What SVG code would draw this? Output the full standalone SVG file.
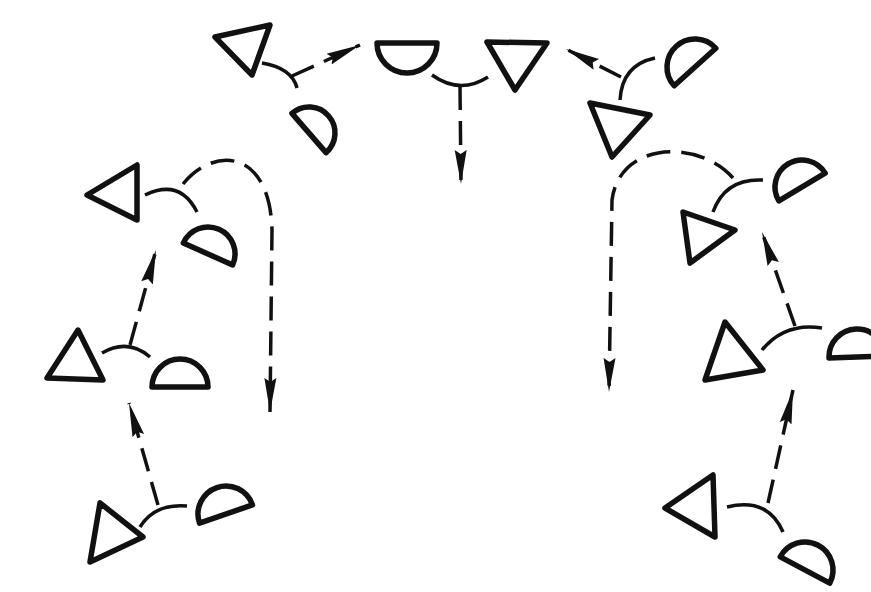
<svg xmlns="http://www.w3.org/2000/svg" width="871" height="592" viewBox="0 0 871 592">
<style>
.tri{fill:none;stroke:#111;stroke-width:5.5;stroke-linejoin:round}
.half{fill:none;stroke:#111;stroke-width:5.5;stroke-linejoin:round}
.arc{fill:none;stroke:#111;stroke-width:3.5}
.dash{fill:none;stroke:#111;stroke-width:3.5;stroke-dasharray:24 11;marker-end:url(#ah)}
</style>
<defs>
<marker id="ah" markerUnits="userSpaceOnUse" markerWidth="36" markerHeight="16" refX="34" refY="8" orient="auto">
<path d="M0,2 L34,8 L0,14 L4,8 Z" fill="#111"/>
</marker>
</defs>
<rect width="871" height="592" fill="#fff"/>
<g id="connectors">
<path class="arc" d="M262,63 Q292,68 297,88"/>
<path class="dash" d="M292,76 L360,45"/>
<path class="arc" d="M432,75 Q460,95 488,77"/>
<path class="dash" d="M460,86 L461,184"/>
<path class="arc" d="M620,100 Q622,65 655,58"/>
<path class="dash" d="M621,77 L566,49"/>
<path class="arc" d="M763,180 Q725,178 713,212"/>
<path class="dash" d="M733,178 C700,140 620,140 612,200 L609,392"/>
<path class="arc" d="M762,350 Q785,322 822,328"/>
<path class="dash" d="M795,326 L762,232"/>
<path class="arc" d="M727,507 Q768,497 783,532"/>
<path class="dash" d="M768,503 L793,390"/>
<path class="arc" d="M145,195 Q180,178 197,212"/>
<path class="dash" d="M183,184 C215,145 270,150 272,230 L270,412"/>
<path class="arc" d="M102,353 Q128,338 150,357"/>
<path class="dash" d="M130,345 L156,250"/>
<path class="arc" d="M140,527 Q155,503 187,506"/>
<path class="dash" d="M158,505 L129,403"/>
</g>
<g id="n1"><polygon class="tri" points="215,37 270,25 252,75"/></g>
<g id="n2"><path class="half" d="M-26,0 A26,26 0 0 0 26,0 Z" transform="translate(309,133) rotate(-131)"/></g>
<g id="n3"><path class="half" d="M-30,0 A30,30 0 0 0 30,0 Z" transform="translate(407,43)"/></g>
<g id="n4"><polygon class="tri" points="487,42 547,43 515,90"/></g>
<g id="n5"><path class="half" d="M-28,0 A28,28 0 0 0 28,0 Z" transform="translate(695,67) rotate(138)"/></g>
<g id="n6"><polygon class="tri" points="590,103 650,115 612,157"/></g>
<g id="n7"><path class="half" d="M-27,0 A27,27 0 0 0 27,0 Z" transform="translate(802,187) rotate(149)"/></g>
<g id="n8"><polygon class="tri" points="683,212 735,230 690,263"/></g>
<g id="n9"><polygon class="tri" points="725,322 763,370 705,380"/></g>
<g id="n10"><path class="half" d="M-28,0 A28,28 0 0 0 28,0 Z" transform="translate(857,357) rotate(178)"/></g>
<g id="n11"><polygon class="tri" points="665,508 713,475 715,537"/></g>
<g id="n12"><path class="half" d="M-28,0 A28,28 0 0 0 28,0 Z" transform="translate(805,570) rotate(-152)"/></g>
<g id="n13"><polygon class="tri" points="87,195 137,165 137,220"/></g>
<g id="n14"><path class="half" d="M-27,0 A27,27 0 0 0 27,0 Z" transform="translate(208,254) rotate(-156)"/></g>
<g id="n15"><polygon class="tri" points="78,330 47,378 103,380"/></g>
<g id="n16"><path class="half" d="M-28,0 A28,28 0 0 0 28,0 Z" transform="translate(180,387) rotate(180)"/></g>
<g id="n17"><polygon class="tri" points="100,503 90,562 143,537"/></g>
<g id="n18"><path class="half" d="M-28,0 A28,28 0 0 0 28,0 Z" transform="translate(226,514) rotate(161)"/></g>
</svg>
